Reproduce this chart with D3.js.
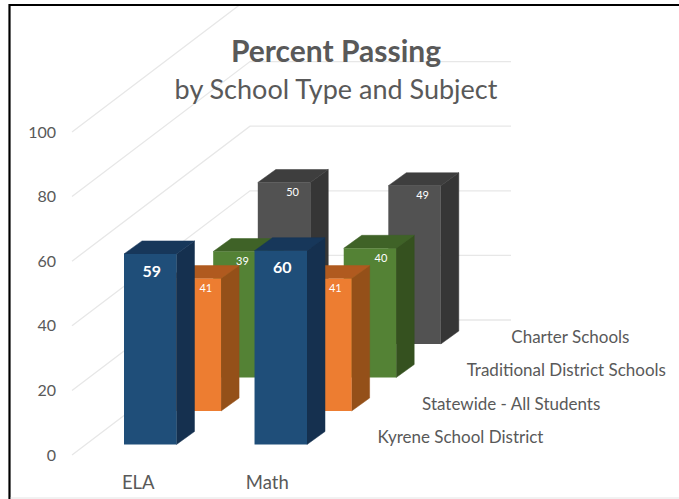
<!DOCTYPE html>
<html>

<head>
  <title>Percent Passing</title>
  <script src="https://cdn.jsdelivr.net/npm/d3@7"></script>
  <style>
    html, body { margin: 0; padding: 0; background: #fff; }
    svg { display: block; }
    text { font-family: Lato, "Open Sans", sans-serif; fill: #595959; }
  </style>
</head>

<body>
  <svg width="679" height="499" id="mainsvg"></svg>
  <script>
    const subjects = ['ELA', 'Math'];
    const schoolTypes = ['Kyrene School District', 'Statewide - All Students', 'Traditional District Schools', 'Charter Schools'];
    const kyrene = [59, 60];
    const statewide = [41, 41];
    const traditional = [39, 40];
    const charter = [50, 49];
    const valueTicks = [0, 20, 40, 60, 80, 100];

    const seriesValues = [kyrene, statewide, traditional, charter];
    const frontColors = ['#1f4e79', '#ed7d31', '#548235', '#525252'];
    const topColors = ['#17375a', '#b05a1f', '#3f6227', '#3e3e3e'];
    const sideColors = ['#15304f', '#945019', '#35511f', '#363636'];
    // data labels are not centred on their bars in the original
    const labelShift = [[1.5, 1.5], [11, 10], [3, 11], [8.5, 8]];

    const svg = d3.select('#mainsvg');
    const width = +svg.attr('width');
    const height = +svg.attr('height');

    const yScale = d3.scaleLinear().domain([0, 100]).range([455, 132]);
    const xScale = d3.scaleBand().domain(subjects).range([124, 307]).paddingInner(0.598);
    // series sit one behind the other, so each step back moves right and up
    const depthScale = d3.scalePoint().domain(schoolTypes).range([0, 3]);
    const depthX = 44.6;
    const depthY = -33.5;
    const floorDrop = -10.5; // front bars stand a little above the axis origin
    const barDx = 18;
    const barDy = -13;
    const wallDx = 178;
    const wallDy = -135;
    const axisX = 72;
    const wallEnd = 511;

    const line = d3.line();
    const defs = svg.append('defs');
    defs.append('clipPath').attr('id', 'frameclip')
      .append('rect').attr('x', 10).attr('y', 5).attr('width', width - 10).attr('height', height - 5);

    // Gridlines: up the side wall, then along the back wall
    svg.append('g').attr('clip-path', 'url(#frameclip)')
      .selectAll('path')
      .data(valueTicks)
      .join('path')
      .attr('d', d => line([
        [axisX, yScale(d)],
        [axisX + wallDx, yScale(d) + wallDy],
        [wallEnd, yScale(d) + wallDy]
      ]))
      .attr('fill', 'none')
      .attr('stroke', '#e7e7e7')
      .attr('stroke-width', 1.3);

    // Value axis
    const yAxis = d3.axisLeft(yScale).tickValues(valueTicks).tickSize(0).tickPadding(0);
    const yAxisGroup = svg.append('g').attr('transform', 'translate(56, 0)').call(yAxis);
    yAxisGroup.selectAll('.domain').remove();
    yAxisGroup.selectAll('text').attr('font-size', 16).attr('fill', null);

    // Category axis
    const xAxis = d3.axisBottom(xScale).tickSize(0).tickPadding(0);
    const xAxisGroup = svg.append('g').attr('transform', 'translate(-12, 476)').call(xAxis);
    xAxisGroup.selectAll('.domain').remove();
    xAxisGroup.selectAll('text').attr('font-size', 18.5).attr('fill', null);
    xAxisGroup.selectAll('text').attr('dx', d => d === 'Math' ? -1.5 : 0);

    // Series names on the depth axis
    svg.append('g').selectAll('text')
      .data(schoolTypes)
      .join('text')
      .attr('x', d => 377.5 + depthScale(d) * depthX)
      .attr('y', d => 438 + depthScale(d) * depthY)
      .attr('dy', '0.32em')
      .attr('font-size', 17)
      .text(d => d);

    // Bars, back row first
    const barBase = floorDrop + yScale(0);
    const rows = schoolTypes.map((name, i) => ({ name, i })).reverse();
    const row = svg.append('g').selectAll('g')
      .data(rows)
      .join('g');

    const bar = row.selectAll('g')
      .data(r => subjects.map((subject, j) => {
        const d = depthScale(r.name);
        const x0 = xScale(subject) + d * depthX;
        const x1 = x0 + xScale.bandwidth();
        const yb = barBase + d * depthY;
        const yt = yb - (yScale(0) - yScale(seriesValues[r.i][j]));
        return { i: r.i, j, value: seriesValues[r.i][j], x0, x1, yb, yt };
      }))
      .join('g');

    // side and top first, the thin stroke hides the seam along the front face
    bar.append('path')
      .attr('d', b => line([
        [b.x1, b.yt], [b.x1 + barDx, b.yt + barDy], [b.x1 + barDx, b.yb + barDy], [b.x1, b.yb]
      ]) + 'Z')
      .attr('fill', b => sideColors[b.i])
      .attr('stroke', b => sideColors[b.i])
      .attr('stroke-width', 0.5);

    bar.append('path')
      .attr('d', b => line([
        [b.x0, b.yt], [b.x1, b.yt], [b.x1 + barDx, b.yt + barDy], [b.x0 + barDx, b.yt + barDy]
      ]) + 'Z')
      .attr('fill', b => topColors[b.i])
      .attr('stroke', b => topColors[b.i])
      .attr('stroke-width', 0.5);

    bar.append('rect')
      .attr('x', b => b.x0)
      .attr('y', b => b.yt)
      .attr('width', b => b.x1 - b.x0)
      .attr('height', b => b.yb - b.yt)
      .attr('fill', b => frontColors[b.i]);

    bar.append('text')
      .attr('x', b => (b.x0 + b.x1) / 2 + labelShift[b.i][b.j])
      .attr('y', b => b.yt + (b.i === 0 ? 17 : 9.5))
      .attr('dy', '0.35em')
      .attr('text-anchor', 'middle')
      .attr('font-size', b => b.i === 0 ? 16 : 11)
      .attr('font-weight', b => b.i === 0 ? 700 : 400)
      .style('fill', '#fff')
      .text(b => b.value);

    // Title
    svg.append('text')
      .attr('x', 336).attr('y', 62)
      .attr('text-anchor', 'middle')
      .attr('font-size', 30)
      .attr('font-weight', 700)
      .text('Percent Passing');
    svg.append('text')
      .attr('x', 336).attr('y', 99)
      .attr('text-anchor', 'middle')
      .attr('font-size', 27)
      .text('by School Type and Subject');

    // Slide frame
    svg.append('path')
      .attr('d', line([[width, 5], [9.5, 5], [9.5, height]]))
      .attr('fill', 'none')
      .attr('stroke', '#000')
      .attr('stroke-width', 2.2);
    svg.append('line')
      .attr('x1', 10.5).attr('x2', width).attr('y1', 498).attr('y2', 498)
      .attr('stroke', '#e4e4e4');
  </script>
</body>

</html>
